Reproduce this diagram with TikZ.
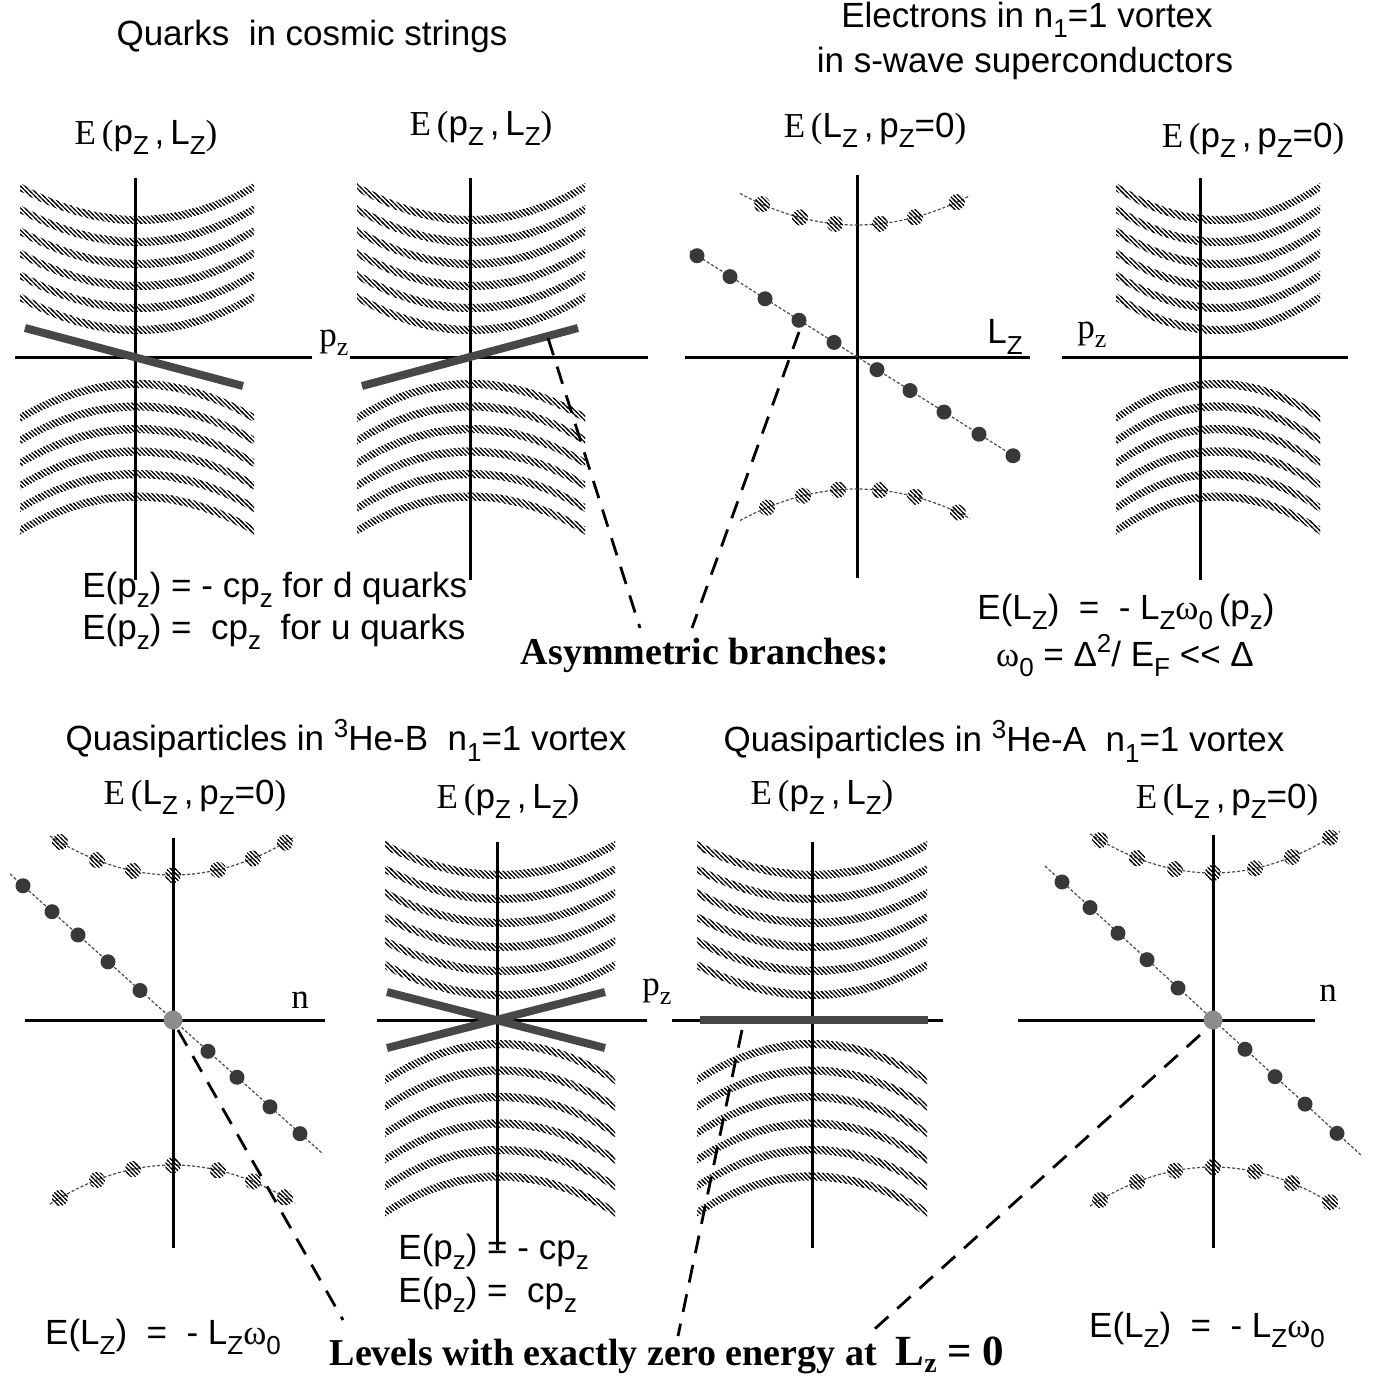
\documentclass[tikz,border=0pt]{standalone}
\usepackage{fontspec}
\setmainfont{Liberation Serif}
\setsansfont{Liberation Sans}
\usetikzlibrary{patterns}

\pgfdeclarepatternformonly{hatchNW}{\pgfqpoint{-1pt}{-1pt}}{\pgfqpoint{3.2pt}{3.2pt}}{\pgfqpoint{2.2pt}{2.2pt}}{%
  \pgfsetlinewidth{0.55pt}%
  \pgfpathmoveto{\pgfqpoint{-0.6pt}{2.8pt}}%
  \pgfpathlineto{\pgfqpoint{2.8pt}{-0.6pt}}%
  \pgfusepath{stroke}}

\newcommand\dn[1]{\raisebox{-0.55ex}{\fontsize{13}{13}\selectfont #1}}
\newcommand\up[1]{\raisebox{0.75ex}{\fontsize{13}{13}\selectfont #1}}
\newcommand\om{{\rmfamily ω}}

% #1 cx, #2 cy, #3 half width, #4 spacing, #5 curvature, #6 gap, #7 last index, #8 direction (-1 up, 1 down)
\newcommand\halffan[8]{%
  \foreach \i in {0,...,#7}{%
    \pgfmathsetmacro\cc{#2+#8*(#6+\i*#4)}%
    \fill[bandfill] plot[domain=-#3:#3,samples=31] ({#1+\x},{\cc+#8*#5*(\x/#3)^2-4})
      -- plot[domain=#3:-#3,samples=31] ({#1+\x},{\cc+#8*#5*(\x/#3)^2+4}) -- cycle;
  }}

\tikzset{
  axis/.style={line width=1.5pt},
  bandfill/.style={pattern=hatchNW},
  zeroline/.style={line width=4pt, black!72},
  hdot/.style={pattern=hatchNW},
  ddot/.style={fill=black!78},
  gdot/.style={fill=black!45},
  thinconn/.style={line width=0.6pt, dash pattern=on 1.5pt off 1pt, black!70},
  conn/.style={line width=1.4pt, dash pattern=on 9pt off 6pt},
  lbl/.style={inner sep=0pt},
  bold/.style={inner sep=0pt, font=\fontsize{19}{22}\selectfont\rmfamily\bfseries}
}

\begin{document}
\begin{tikzpicture}[x=0.5pt,y=-0.5pt, font=\fontsize{17.5}{21}\selectfont\sffamily]
\fill[white] (0,0) rectangle (1372,1380);
\useasboundingbox (0,0) rectangle (1372,1380);

% ---------------- titles ----------------
\node[lbl] (tq) at (312,36) {Quarks \ in cosmic strings};
\node[lbl] (te1) at (1027,20) {Electrons in n\dn{1}=1 vortex};
\node[lbl] (te2) at (1025,63) {in s-wave superconductors};

% ---------------- panel 1 ----------------
\halffan{137}{357}{117}{22}{33}{27}{5}{-1}
\halffan{137}{357}{117}{22.5}{34}{27}{5}{1}
\draw[axis] (135,178) -- (135,580);
\draw[axis] (15,357) -- (312,357);
\draw[zeroline] (25,328) -- (243,386);
\node[lbl] (l1) at (146,137) {{\rmfamily E\,(}p\dn{Z}\,,\,L\dn{Z}{\rmfamily )}};
\node[lbl] (ax1) at (334,343) {\rmfamily p\dn{z}};

% ---------------- panel 2 ----------------
\halffan{471}{357}{114}{22}{33}{27}{5}{-1}
\halffan{471}{357}{114}{22.5}{34}{27}{5}{1}
\draw[axis] (470,178) -- (470,580);
\draw[axis] (350,357) -- (648,357);
\draw[zeroline] (362,386) -- (578,328);
\node[lbl] (l2) at (481,128) {{\rmfamily E\,(}p\dn{Z}\,,\,L\dn{Z}{\rmfamily )}};

% ---------------- panel 3 ----------------
\draw[axis] (857,175) -- (857,578);
\draw[axis] (685,357) -- (1030,357);
\draw[thinconn] plot[domain=740:970,samples=30] (\x,{225-23*((\x-857)/100)^2});
\foreach \x in {762,800,835,880,915,957} \fill[hdot] (\x,{225-23*((\x-857)/100)^2}) circle (8);
\draw[thinconn] plot[domain=740:970,samples=30] (\x,{489+23*((\x-857)/100)^2});
\foreach \x in {767,803,838,880,915,958} \fill[hdot] (\x,{489+23*((\x-857)/100)^2}) circle (8);
\draw[thinconn] (690,251) -- (1020,460);
\foreach \x in {697,730,765,799,834,877,910,944,979,1013} \fill[ddot] (\x,{357+0.633*(\x-857)}) circle (7.5);
\node[lbl] (l3) at (875,130) {{\rmfamily E\,(}L\dn{Z}\,,\,p\dn{Z}=0{\rmfamily )}};
\node[lbl] (ax3) at (1005,337) {L\dn{Z}};

% ---------------- panel 4 ----------------
\halffan{1218}{357}{102}{22}{33}{27}{5}{-1}
\halffan{1218}{357}{102}{22.5}{34}{27}{5}{1}
\draw[axis] (1200,178) -- (1200,580);
\draw[axis] (1062,357) -- (1348,357);
\node[lbl] (l4) at (1253,140) {{\rmfamily E\,(}p\dn{Z}\,,\,p\dn{Z}=0{\rmfamily )}};
\node[lbl] (ax4) at (1092,335) {\rmfamily p\dn{z}};

% ---------------- top formulas ----------------
\node[lbl,anchor=west] (fd) at (82,590) {E(p\dn{z}) = - cp\dn{z} for d quarks};
\node[lbl,anchor=west] (fu) at (82,632) {E(p\dn{z}) = \ cp\dn{z} \ for u quarks};
\node[lbl] (fe1) at (1126,612) {E(L\dn{Z}) \ = \ - L\dn{Z}\om\dn{0}\,(p\dn{z})};
\node[lbl] (fe2) at (1125,656) {\om\dn{0} = Δ\up{2}/ E\dn{F} <{}< Δ};
\node[bold] (asym) at (705,655) {Asymmetric branches:};

% ---------------- bottom titles ----------------
\node[lbl] (tb) at (346,740) {Quasiparticles in \up{3}He-B \ n\dn{1}=1 vortex};
\node[lbl] (ta) at (1004,741) {Quasiparticles in \up{3}He-A \ n\dn{1}=1 vortex};

% ---------------- panel 5 ----------------
\draw[axis] (173,838) -- (173,1248);
\draw[axis] (25,1020) -- (325,1020);
\draw[thinconn] plot[domain=50:295,samples=30] (\x,{875-25.8*((\x-173)/100)^2});
\foreach \x in {60,97,133,173,218,253,285} \fill[hdot] (\x,{875-25.8*((\x-173)/100)^2}) circle (8);
\draw[thinconn] plot[domain=50:295,samples=30] (\x,{1165+25.8*((\x-173)/100)^2});
\foreach \x in {60,97,133,173,218,253,285} \fill[hdot] (\x,{1165+25.8*((\x-173)/100)^2}) circle (8);
\draw[thinconn] (10,874) -- (322,1153);
\foreach \x in {23,52,78,108,140,208,237,270,300} \fill[ddot] (\x,{1020+0.895*(\x-173)}) circle (7.5);
\fill[gdot] (173,1020) circle (9.5);
\node[lbl] (l5) at (195,797) {{\rmfamily E\,(}L\dn{Z}\,,\,p\dn{Z}=0{\rmfamily )}};
\node[lbl] (ax5) at (300,1000) {\rmfamily n};

% ---------------- panel 6 ----------------
\halffan{500}{1020}{115}{24}{30}{25}{5}{-1}
\halffan{500}{1020}{115}{26.5}{36}{24}{5}{1}
\draw[axis] (497,842) -- (497,1250);
\draw[axis] (377,1020) -- (647,1020);
\draw[zeroline] (387,992) -- (605,1048);
\draw[zeroline] (387,1048) -- (605,992);
\node[lbl] (l6) at (508,801) {{\rmfamily E\,(}p\dn{Z}\,,\,L\dn{Z}{\rmfamily )}};
\node[lbl] (ax6) at (657,992) {\rmfamily p\dn{z}};
\node[lbl,anchor=west] (f6a) at (398,1252) {E(p\dn{z}) = - cp\dn{z}};
\node[lbl,anchor=west] (f6b) at (398,1295) {E(p\dn{z}) = \ cp\dn{z}};

% ---------------- panel 7 ----------------
\halffan{812}{1020}{115}{24}{30}{25}{5}{-1}
\halffan{812}{1020}{115}{26.5}{36}{24}{5}{1}
\draw[axis] (812,842) -- (812,1248);
\draw[axis] (672,1020) -- (943,1020);
\draw[zeroline] (700,1020) -- (928,1020);
\node[lbl] (l7) at (822,797) {{\rmfamily E\,(}p\dn{Z}\,,\,L\dn{Z}{\rmfamily )}};

% ---------------- panel 8 ----------------
\draw[axis] (1213,835) -- (1213,1248);
\draw[axis] (1018,1020) -- (1315,1020);
\draw[thinconn] plot[domain=1090:1340,samples=30] (\x,{873-25.8*((\x-1213)/100)^2});
\foreach \x in {1100,1137,1175,1213,1255,1292,1330} \fill[hdot] (\x,{873-25.8*((\x-1213)/100)^2}) circle (8);
\draw[thinconn] plot[domain=1090:1340,samples=30] (\x,{1167+25.8*((\x-1213)/100)^2});
\foreach \x in {1100,1137,1175,1213,1255,1292,1330} \fill[hdot] (\x,{1167+25.8*((\x-1213)/100)^2}) circle (8);
\draw[thinconn] (1045,866) -- (1362,1156);
\foreach \x in {1062,1090,1118,1147,1178,1245,1275,1305,1337} \fill[ddot] (\x,{1020+0.914*(\x-1213)}) circle (7.5);
\fill[gdot] (1213,1020) circle (9.5);
\node[lbl] (l8) at (1227,801) {{\rmfamily E\,(}L\dn{Z}\,,\,p\dn{Z}=0{\rmfamily )}};
\node[lbl] (ax8) at (1328,993) {\rmfamily n};

% ---------------- bottom formulas ----------------
\node[lbl] (f5) at (163,1337) {E(L\dn{Z}) \ = \ - L\dn{Z}\om\dn{0}};
\node[lbl] (f8) at (1207,1330) {E(L\dn{Z}) \ = \ - L\dn{Z}\om\dn{0}};
\node[bold] (levels) at (667,1355) {Levels with exactly zero energy at \ {\fontsize{21.5}{24}\selectfont L\raisebox{-0.35ex}{\fontsize{14}{14}\selectfont z} = 0}};

% ---------------- dashed connectors ----------------
\coordinate (a1) at (548,338);
\coordinate (a2) at (640,628);
\coordinate (b1) at (799,332);
\coordinate (b2) at (692,628);
\coordinate (c1) at (178,1030);
\coordinate (c2) at (343,1320);
\coordinate (d1) at (742,1030);
\coordinate (d2) at (678,1336);
\coordinate (e1) at (1200,1035);
\coordinate (e2) at (868,1335);
\draw[conn] (a1) -- (a2);
\draw[conn] (b1) -- (b2);
\draw[conn] (c1) -- (c2);
\draw[conn] (d1) -- (d2);
\draw[conn] (e1) -- (e2);
\end{tikzpicture}
\end{document}
